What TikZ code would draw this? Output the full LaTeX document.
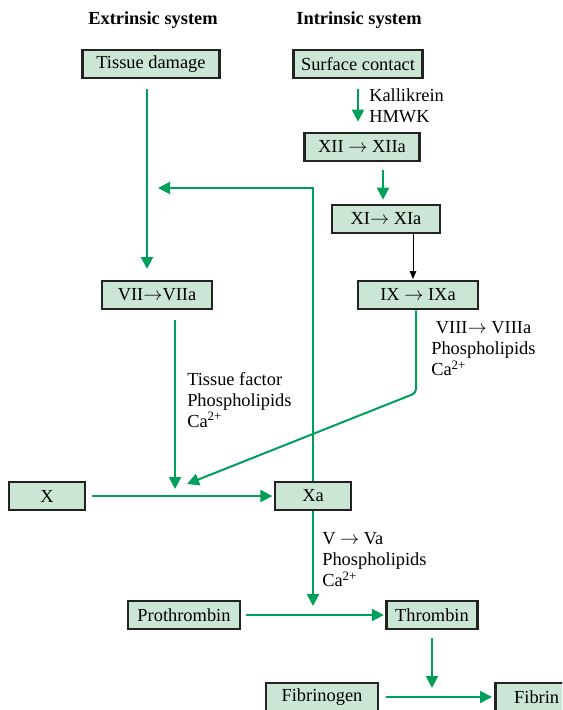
\documentclass[tikz,border=0pt]{standalone}
\usepackage{fontspec}
\setmainfont{Liberation Serif}
\usetikzlibrary{arrows.meta, positioning, calc}
\definecolor{flowgreen}{RGB}{0,160,90}
\definecolor{boxfill}{RGB}{204,230,214}
\definecolor{boxline}{RGB}{35,35,35}

\begin{document}
\begin{tikzpicture}[
    % Global Styles
    x=0.75pt, y=-0.75pt,
    font=\fontsize{13.8}{16}\selectfont,
    % Node Styles
    factor/.style={
        rectangle,
        draw=boxline,
        line width=2pt,
        fill=boxfill,
        minimum height=21pt,
        inner xsep=5pt,
        inner ysep=2pt
    },
    header/.style={
        font=\fontsize{13.8}{16}\selectfont\bfseries
    },
    cofactor/.style={
        align=left,
        anchor=north west,
        inner sep=0pt
    },
    % Arrow Styles
    flow/.style={
        draw=flowgreen,
        line width=1.5pt,
        -{Triangle[width=9pt,length=9pt]}
    },
    thinflow/.style={
        draw=black,
        line width=0.6pt,
        -{Triangle[width=5pt,length=6pt]}
    }
]

    % --- Frame ---
    \clip (0,0) rectangle (562,710);

    % --- Columns and free arrow ends ---
    \coordinate (colA) at (147,0);
    \coordinate (colB) at (175,0);
    \coordinate (colC) at (383,0);
    \coordinate (colD) at (413,0);
    \coordinate (colE) at (416,0);
    \coordinate (fb) at (158,188);
    \coordinate (bend) at (416,393);
    \coordinate (jn1) at (175,489);
    \coordinate (jn2) at (187,484);
    \coordinate (jn3) at (313,606);
    \coordinate (jn4) at (432,688);

    % --- Headers ---
    \node[header] (exthead) at (153,20) {Extrinsic system};
    \node[header] (inthead) at (359,20) {Intrinsic system};

    % --- Factors ---
    \node[factor, minimum width=102.75pt] (tissue) at (151,64) {Tissue damage};
    \node[factor, minimum width=96.75pt] (surface) at (358,64) {Surface contact};
    \node[factor, minimum width=86.25pt] (xii) at (362,147) {XII $\rightarrow$ XIIa};
    \node[factor, minimum width=81pt] (xi) at (386,219) {XI$\rightarrow$ XIa};
    \node[factor, minimum width=82.5pt] (vii) at (157,295) {VII$\rightarrow$VIIa};
    \node[factor, minimum width=90pt] (ix) at (418,295) {IX $\rightarrow$ IXa};
    \node[factor, minimum width=57pt] (x) at (47,496) {X};
    \node[factor, minimum width=57pt] (xa) at (313,496) {Xa};
    \node[factor, minimum width=84pt] (prothr) at (184,615) {Prothrombin};
    \node[factor, minimum width=68.25pt] (thromb) at (432,615) {Thrombin};
    \node[factor, minimum width=84pt] (fibgen) at (322,697) {Fibrinogen};
    \node[factor, minimum width=70pt, anchor=west] (fibrin) at (494,697) {\hspace*{-8pt}Fibrin};

    % --- Cofactors ---
    \node[cofactor] (kalli) at (369,88) {Kallikrein\\HMWK};
    \node[cofactor] (tfact) at (187,372) {Tissue factor\\Phospholipids\\Ca\textsuperscript{2+}};
    \node[cofactor] (viii) at (431,321) {~VIII$\rightarrow$ VIIIa\\Phospholipids\\Ca\textsuperscript{2+}};
    \node[cofactor] (vfact) at (322,532) {V $\rightarrow$ Va\\Phospholipids\\Ca\textsuperscript{2+}};

    % --- Intrinsic cascade ---
    \draw[flow, shorten <=7pt, shorten >=7.5pt] (surface.south) -- (xii.north -| surface.south);
    \draw[flow, shorten <=6pt, shorten >=3pt] (xii.south -| colC) -- (xi.north -| colC);
    \draw[thinflow, shorten >=0.5pt] (xi.south -| colD) -- (ix.north -| colD);
    \draw[flow, rounded corners=3pt] (ix.south -| colE) -- (bend) -- (jn2);

    % --- Extrinsic cascade ---
    \draw[flow, shorten <=7.5pt, shorten >=8pt] (tissue.south -| colA) -- (vii.north -| colA);
    \draw[flow, shorten <=7pt] (vii.south -| colB) -- (jn1);

    % --- Common pathway ---
    \draw[flow, shorten <=4.5pt, shorten >=1pt] (x) -- (xa);
    \draw[flow] (xa.north) |- (fb);
    \draw[flow] (xa.south) -- (jn3);
    \draw[flow, shorten <=3.5pt, shorten >=1pt] (prothr) -- (thromb);
    \draw[flow, shorten <=6pt] (thromb.south) -- (jn4);
    \draw[flow, shorten <=5pt, shorten >=1.5pt] (fibgen) -- (fibrin);

\end{tikzpicture}
\end{document}
